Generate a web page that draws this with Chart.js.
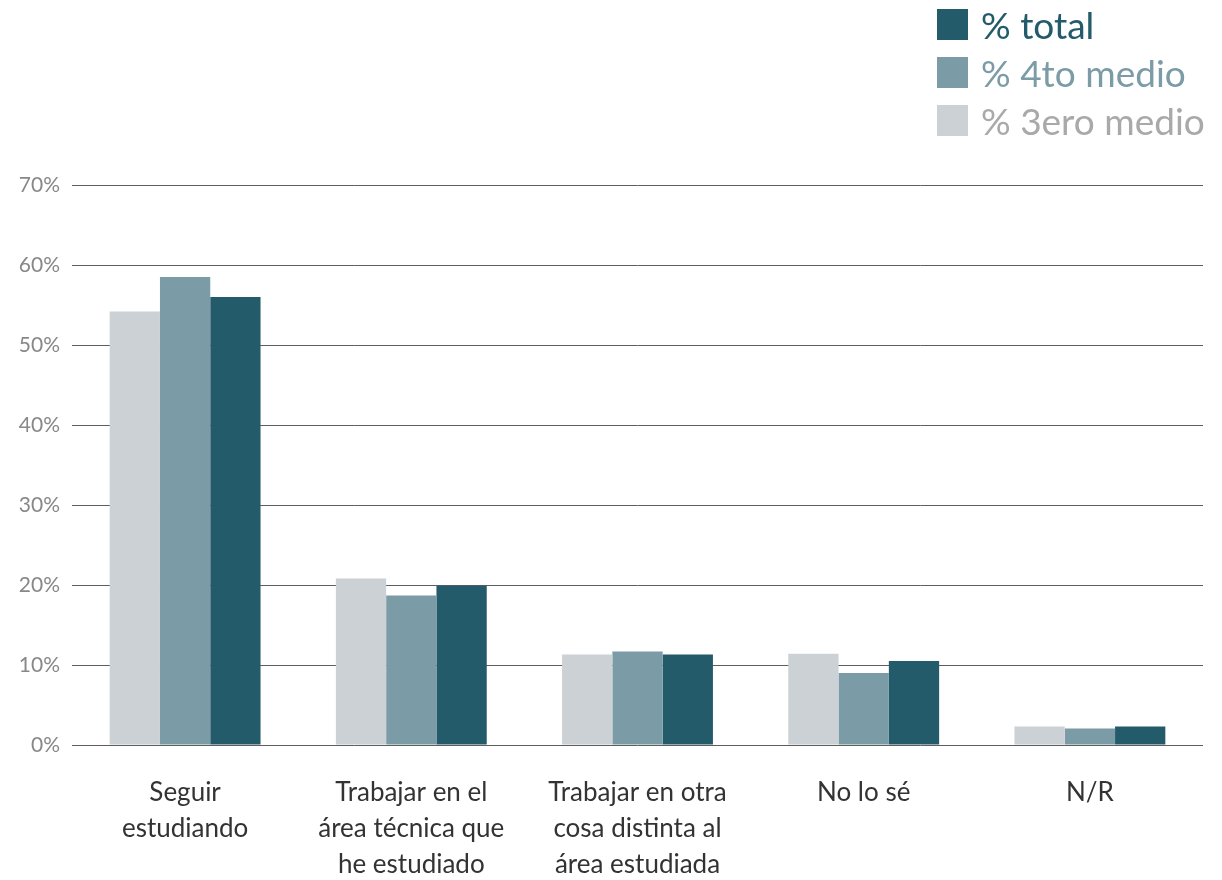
<!DOCTYPE html>
<html>
<head>
<meta charset="utf-8">
<script src="https://cdn.jsdelivr.net/npm/chart.js@4"></script>
<style>
  html, body { margin: 0; padding: 0; background: #fff; }
  #wrap { position: relative; width: 1222px; height: 880px; }
  #legend { position: absolute; left: 937px; top: 9px; font-family: Lato, "Open Sans", sans-serif; }
  .item { display: flex; align-items: center; height: 31px; margin-bottom: 17px; }
  .box { width: 31px; height: 31px; margin-right: 13px; }
  .lbl { font-size: 37px; line-height: 31px; white-space: nowrap; }
</style>
</head>
<body>
<div id="wrap">
  <canvas id="chart" width="1222" height="880"></canvas>
  <div id="legend"></div>
</div>
<script>
// categorías y series
const categories = [
    ['Seguir', 'estudiando'],
    ['Trabajar en el', 'área técnica que', 'he estudiado'],
    ['Trabajar en otra', 'cosa distinta al', 'área estudiada'],
    ['No lo sé'],
    ['N/R']
];
const tercero = [54.2, 20.8, 11.3, 11.4, 2.3];
const cuarto = [58.5, 18.7, 11.7, 9.0, 2.05];
const total = [56.0, 19.9, 11.3, 10.5, 2.3];
const yTicks = [0, 10, 20, 30, 40, 50, 60, 70];

const series = [
    { label: '% 3ero medio', data: tercero, color: '#cbd1d5', text: '#a9a9a9' },
    { label: '% 4to medio', data: cuarto, color: '#7b9ca6', text: '#7b9ca6' },
    { label: '% total', data: total, color: '#245b6b', text: '#245b6b' }
];

// leyenda (orden inverso)
const legend = document.getElementById('legend');
series.slice().reverse().forEach(s => {
    const item = document.createElement('div');
    item.className = 'item';
    item.innerHTML = '<div class="box" style="background:' + s.color + '"></div>' +
        '<span class="lbl" style="color:' + s.text + '">' + s.label + '</span>';
    legend.appendChild(item);
});

const ctx = document.getElementById('chart').getContext('2d');
new Chart(ctx, {
    type: 'bar',
    data: {
        labels: categories,
        datasets: series.map(s => ({
            label: s.label,
            data: s.data,
            backgroundColor: s.color,
            borderWidth: 0,
            categoryPercentage: 0.667,
            barPercentage: 1.0
        }))
    },
    options: {
        responsive: false,
        animation: false,
        layout: { padding: { top: 185, right: 19, left: 0, bottom: 0 } },
        plugins: { legend: { display: false }, tooltip: { enabled: false } },
        scales: {
            x: {
                grid: { display: false, drawTicks: false },
                border: { display: false },
                ticks: {
                    color: '#333',
                    padding: 29,
                    maxRotation: 0,
                    autoSkip: false,
                    font: { family: 'Lato, "Open Sans", sans-serif', size: 26, lineHeight: 1.4 }
                },
                afterFit: scale => { scale.height = 135; }
            },
            y: {
                min: 0,
                max: 70,
                afterBuildTicks: scale => { scale.ticks = yTicks.map(v => ({ value: v })); },
                grid: { color: '#5e5e5e', lineWidth: 1, drawTicks: false },
                border: { display: false },
                ticks: {
                    color: '#888',
                    padding: 12,
                    callback: v => v + '%',
                    font: { family: 'Lato, "Open Sans", sans-serif', size: 21 }
                },
                afterFit: scale => { scale.width = 72; }
            }
        }
    }
});
</script>
</body>
</html>
